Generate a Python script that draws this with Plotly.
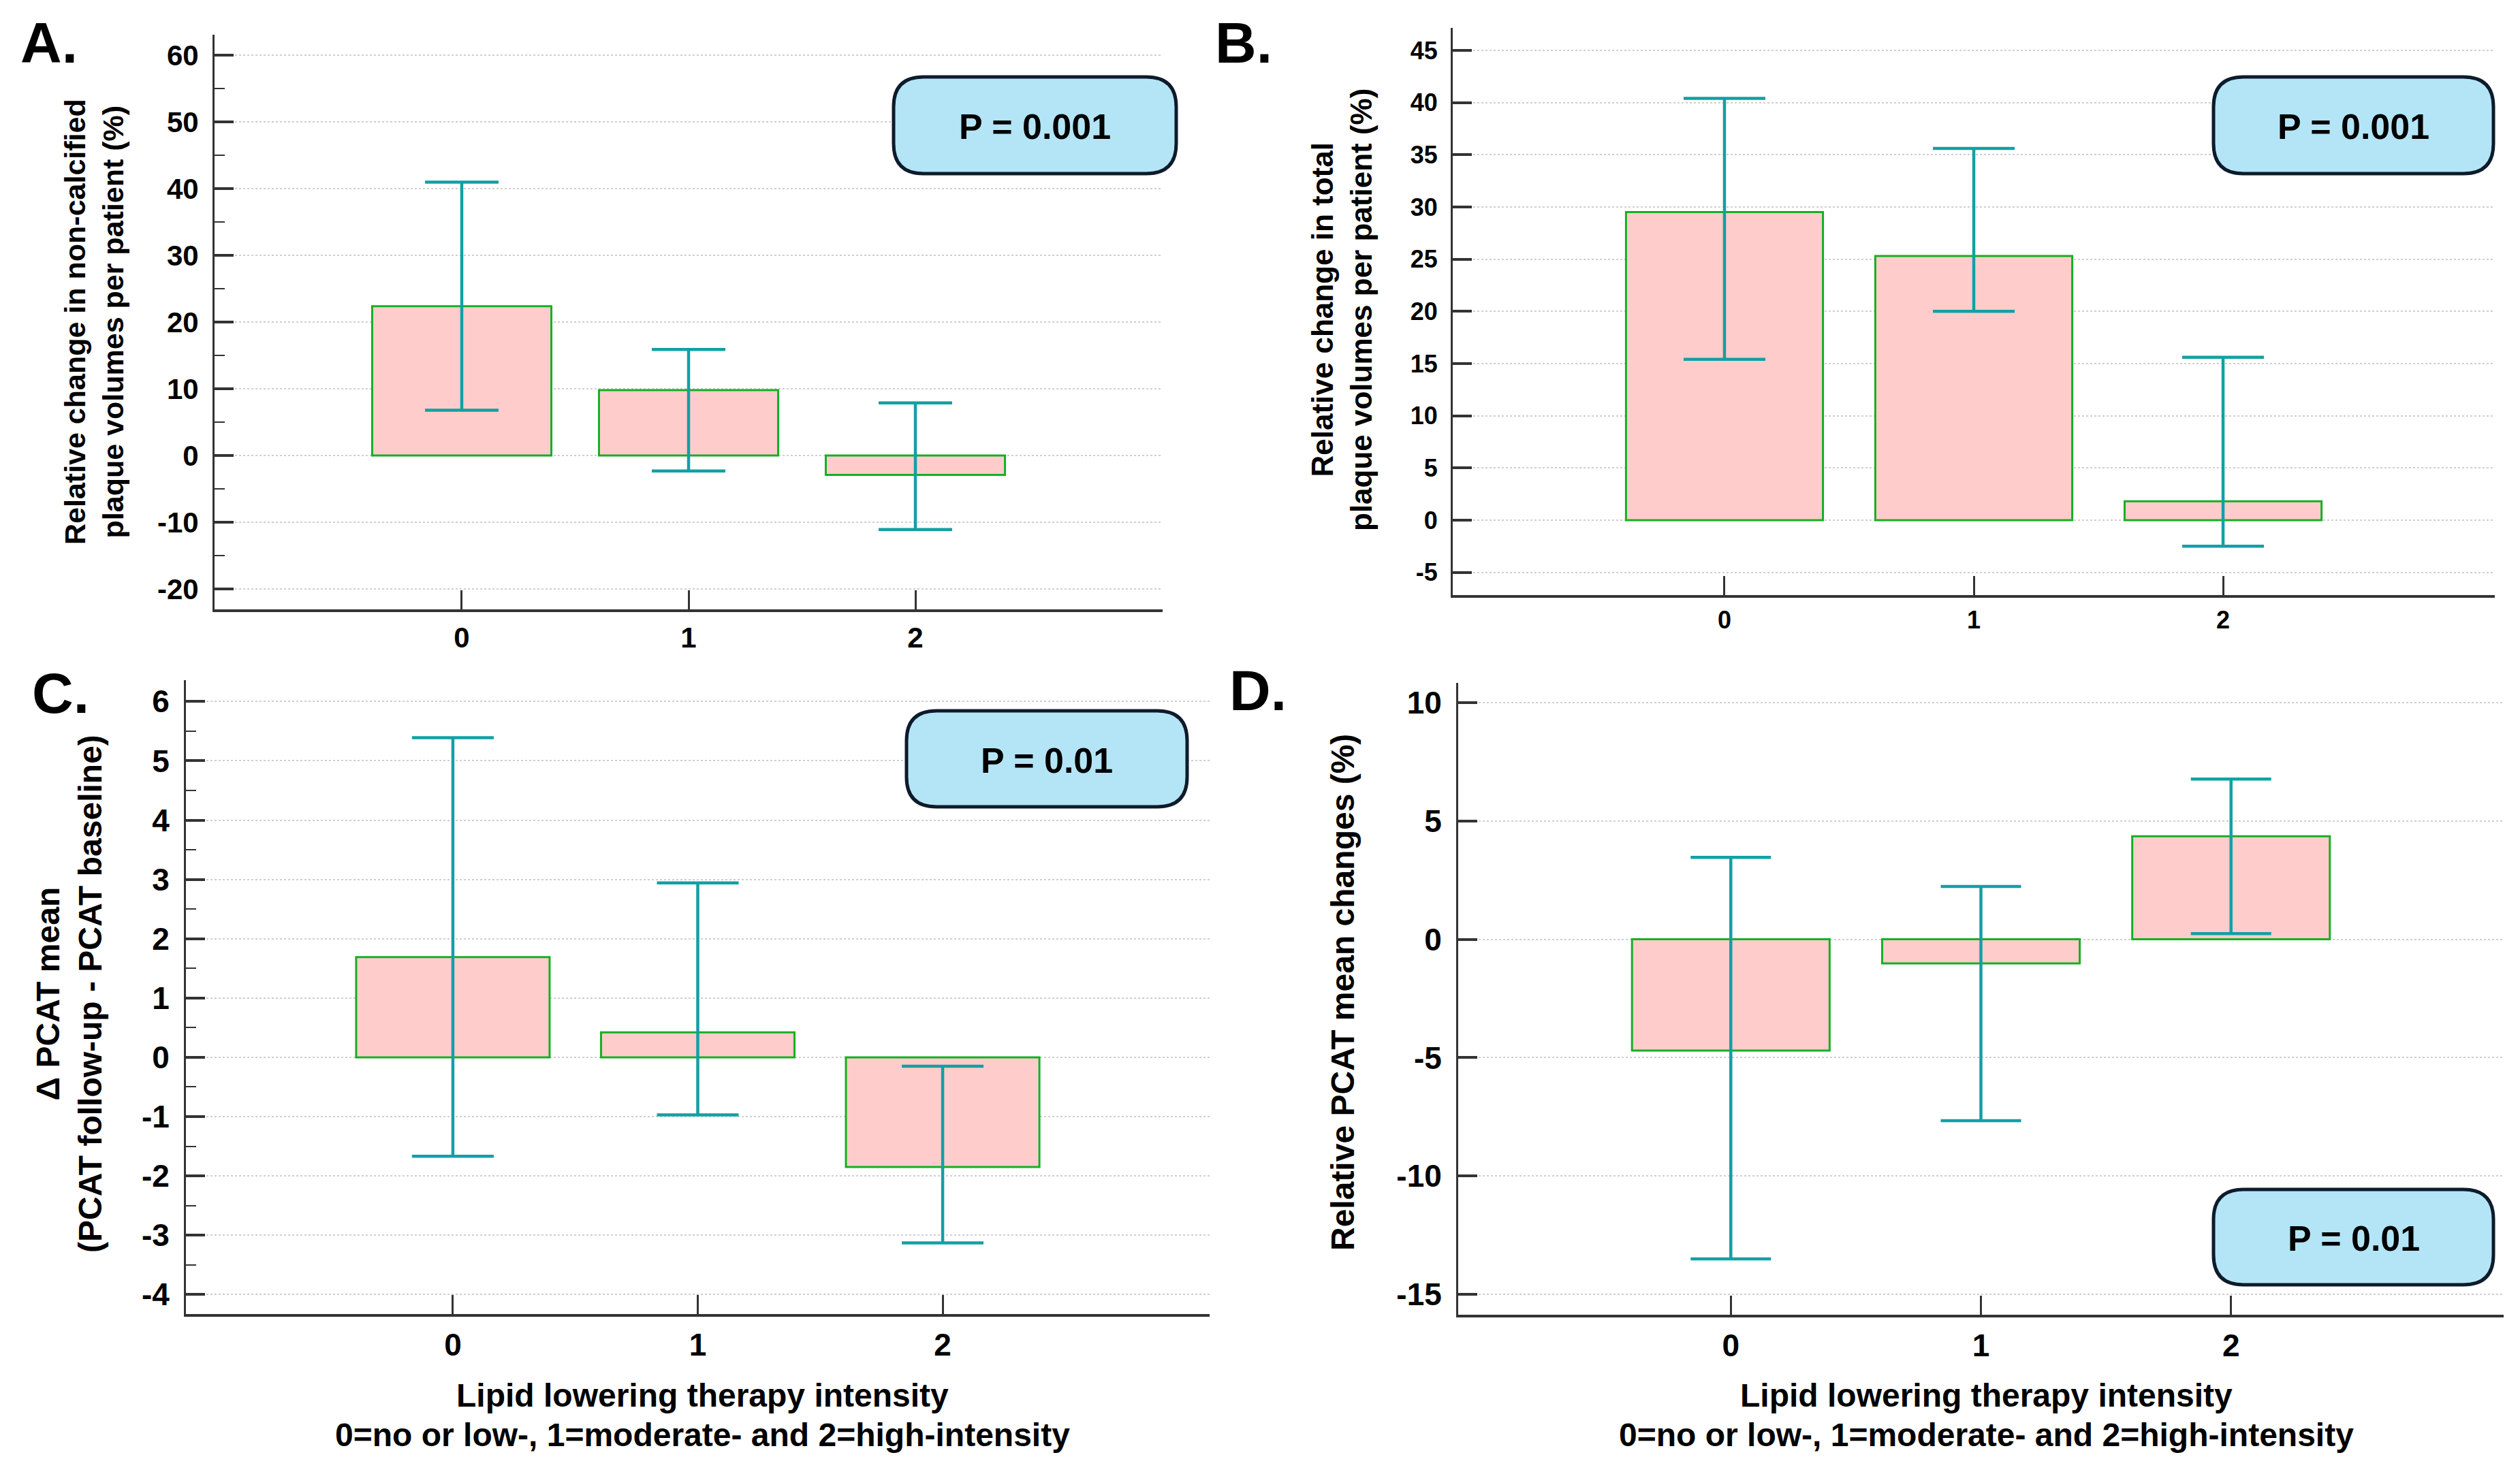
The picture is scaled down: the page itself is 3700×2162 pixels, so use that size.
import plotly.graph_objects as go

# data
categories = [0, 1, 2]
tick_text = ["0", "1", "2"]

a_mean = [22.4, 9.8, -2.9]
a_low = [6.8, -2.3, -11.1]
a_high = [41.0, 15.9, 7.9]
a_ticks = [-20, -10, 0, 10, 20, 30, 40, 50, 60]

b_mean = [29.5, 25.3, 1.8]
b_low = [15.4, 20.0, -2.5]
b_high = [40.4, 35.6, 15.6]
b_ticks = [-5, 0, 5, 10, 15, 20, 25, 30, 35, 40, 45]

c_mean = [1.69, 0.42, -1.85]
c_low = [-1.67, -0.97, -3.13]
c_high = [5.39, 2.94, -0.15]
c_ticks = [-4, -3, -2, -1, 0, 1, 2, 3, 4, 5, 6]

d_mean = [-4.7, -1.02, 4.35]
d_low = [-13.5, -7.66, 0.24]
d_high = [3.46, 2.23, 6.77]
d_ticks = [-15, -10, -5, 0, 5, 10]

p_values = ["P = 0.001", "P = 0.001", "P = 0.01", "P = 0.01"]

W, H = 3700, 2162
FONT = "Liberation Sans, Arial, sans-serif"
BAR_FILL = "#FFCCCC"
BAR_LINE = "#14B022"
ERR_COLOR = "#12A0A4"
AXIS_COLOR = "#333333"


def px(x):
    return x / W


def py(y):
    return 1 - y / H


panels = [
    # mean, low, high, ticks, x-domain px, y-domain px, y-range, minor, fontsize, cap
    (a_mean, a_low, a_high, a_ticks, (315, 1707), (51, 895), (-23.06, 63.1), 5, 42, 54),
    (b_mean, b_low, b_high, b_ticks, (2133, 3663), (41, 874), (-7.18, 47.15), None, 36, 60),
    (c_mean, c_low, c_high, c_ticks, (273, 1776), (999, 1930), (-4.33, 6.36), 0.5, 46, 60),
    (d_mean, d_low, d_high, d_ticks, (2141, 3676), (1003, 1931), (-15.86, 10.83), None, 46, 59),
]

fig = go.Figure()
layout = {}

for i, (mean, low, high, ticks, xd, yd, yr, minor, fs, cap) in enumerate(panels):
    n = "" if i == 0 else str(i + 1)
    fig.add_trace(go.Bar(
        x=categories, y=mean, width=0.79,
        marker=dict(color=BAR_FILL, line=dict(color=BAR_LINE, width=3)),
        error_y=dict(type="data", symmetric=False,
                     array=[h - m for h, m in zip(high, mean)],
                     arrayminus=[m - l for m, l in zip(mean, low)],
                     color=ERR_COLOR, thickness=4.5, width=cap),
        xaxis="x" + n, yaxis="y" + n, showlegend=False,
    ))
    layout["xaxis" + n] = dict(
        domain=[px(xd[0]), px(xd[1])], anchor="y" + n,
        range=[-1.09, 3.09], tickvals=categories, ticktext=tick_text,
        showgrid=False, zeroline=False, showline=True,
        linecolor=AXIS_COLOR, linewidth=4,
        ticks="inside", ticklen=28, tickwidth=3, tickcolor=AXIS_COLOR,
        ticklabelstandoff=2,
        tickfont=dict(family=FONT, size=fs, color="black", weight="bold"),
    )
    ya = dict(
        domain=[py(yd[1]), py(yd[0])], anchor="x" + n,
        range=list(yr), tickvals=ticks, ticktext=[str(t) for t in ticks],
        showgrid=True, gridcolor="#cfcfcf", gridwidth=2, griddash="dot",
        zeroline=False, showline=True, linecolor=AXIS_COLOR, linewidth=3,
        ticks="inside", ticklen=28, tickwidth=4, tickcolor=AXIS_COLOR,
        ticklabelstandoff=12,
        tickfont=dict(family=FONT, size=fs, color="black", weight="bold"),
    )
    if minor:
        ya["minor"] = dict(dtick=minor, tick0=0, ticks="inside", ticklen=15,
                           tickwidth=2, tickcolor=AXIS_COLOR, showgrid=False)
    layout["yaxis" + n] = ya


def rounded_box(x0, y0, x1, y1, r=44):
    rx, ry = r / W, r / H
    X0, X1 = px(x0), px(x1)
    Y0, Y1 = py(y0), py(y1)  # Y0 is top
    return (f"M {X0 + rx},{Y0} L {X1 - rx},{Y0} Q {X1},{Y0} {X1},{Y0 - ry} "
            f"L {X1},{Y1 + ry} Q {X1},{Y1} {X1 - rx},{Y1} "
            f"L {X0 + rx},{Y1} Q {X0},{Y1} {X0},{Y1 + ry} "
            f"L {X0},{Y0 - ry} Q {X0},{Y0} {X0 + rx},{Y0} Z")


boxes = [(1312, 113, 1727, 255), (3250, 113, 3661, 255),
         (1331, 1044, 1743, 1185), (3250, 1747, 3661, 1887)]

shapes = []
annotations = []
for (x0, y0, x1, y1), p in zip(boxes, p_values):
    shapes.append(dict(type="path", path=rounded_box(x0, y0, x1, y1),
                       xref="paper", yref="paper", fillcolor="#B3E5F6",
                       line=dict(color="#0E1B2B", width=5), layer="above"))
    annotations.append(dict(text=p, x=px((x0 + x1) / 2), y=py((y0 + y1) / 2 + 2),
                            xref="paper", yref="paper", showarrow=False,
                            xanchor="center", yanchor="middle",
                            font=dict(family=FONT, size=52, color="black", weight="bold")))

# panel letters
for lab, x, y in [("A.", 28, 63), ("B.", 1782, 63), ("C.", 45, 1018), ("D.", 1803, 1014)]:
    annotations.append(dict(text=lab, x=px(x), y=py(y), xref="paper", yref="paper",
                            showarrow=False, xanchor="left", yanchor="middle",
                            font=dict(family=FONT, size=84, color="black", weight="bold")))

# y-axis titles
y_titles = [
    ("Relative change in non-calcified<br>plaque volumes per patient (%)", 138, 473, 43),
    ("Relative change in total<br>plaque volumes per patient (%)", 1970, 455, 44),
    ("Δ PCAT mean<br>(PCAT follow-up - PCAT baseline)", 101, 1460, 48),
    ("Relative PCAT mean changes (%)", 1971, 1458, 48),
]
for t, x, y, s in y_titles:
    annotations.append(dict(text=t, x=px(x), y=py(y), xref="paper", yref="paper",
                            showarrow=False, textangle=-90, xanchor="center",
                            yanchor="middle",
                            font=dict(family=FONT, size=s, color="black", weight="bold")))

# x-axis titles (bottom panels)
x_title_1 = "Lipid lowering therapy intensity"
x_title_2 = "0=no or low-, 1=moderate- and 2=high-intensity"
for cx in [1031, 2916]:
    for t, y in [(x_title_1, 2049), (x_title_2, 2107)]:
        annotations.append(dict(text=t, x=px(cx), y=py(y), xref="paper", yref="paper",
                                showarrow=False, xanchor="center", yanchor="middle",
                                font=dict(family=FONT, size=48, color="black", weight="bold")))

fig.update_layout(
    width=W, height=H, margin=dict(l=0, r=0, t=0, b=0),
    paper_bgcolor="white", plot_bgcolor="white",
    shapes=shapes, annotations=annotations, bargap=0.2,
    **layout,
)

fig.write_html("out.html", config={"displayModeBar": False},
               post_script="document.body.style.margin='0';")
